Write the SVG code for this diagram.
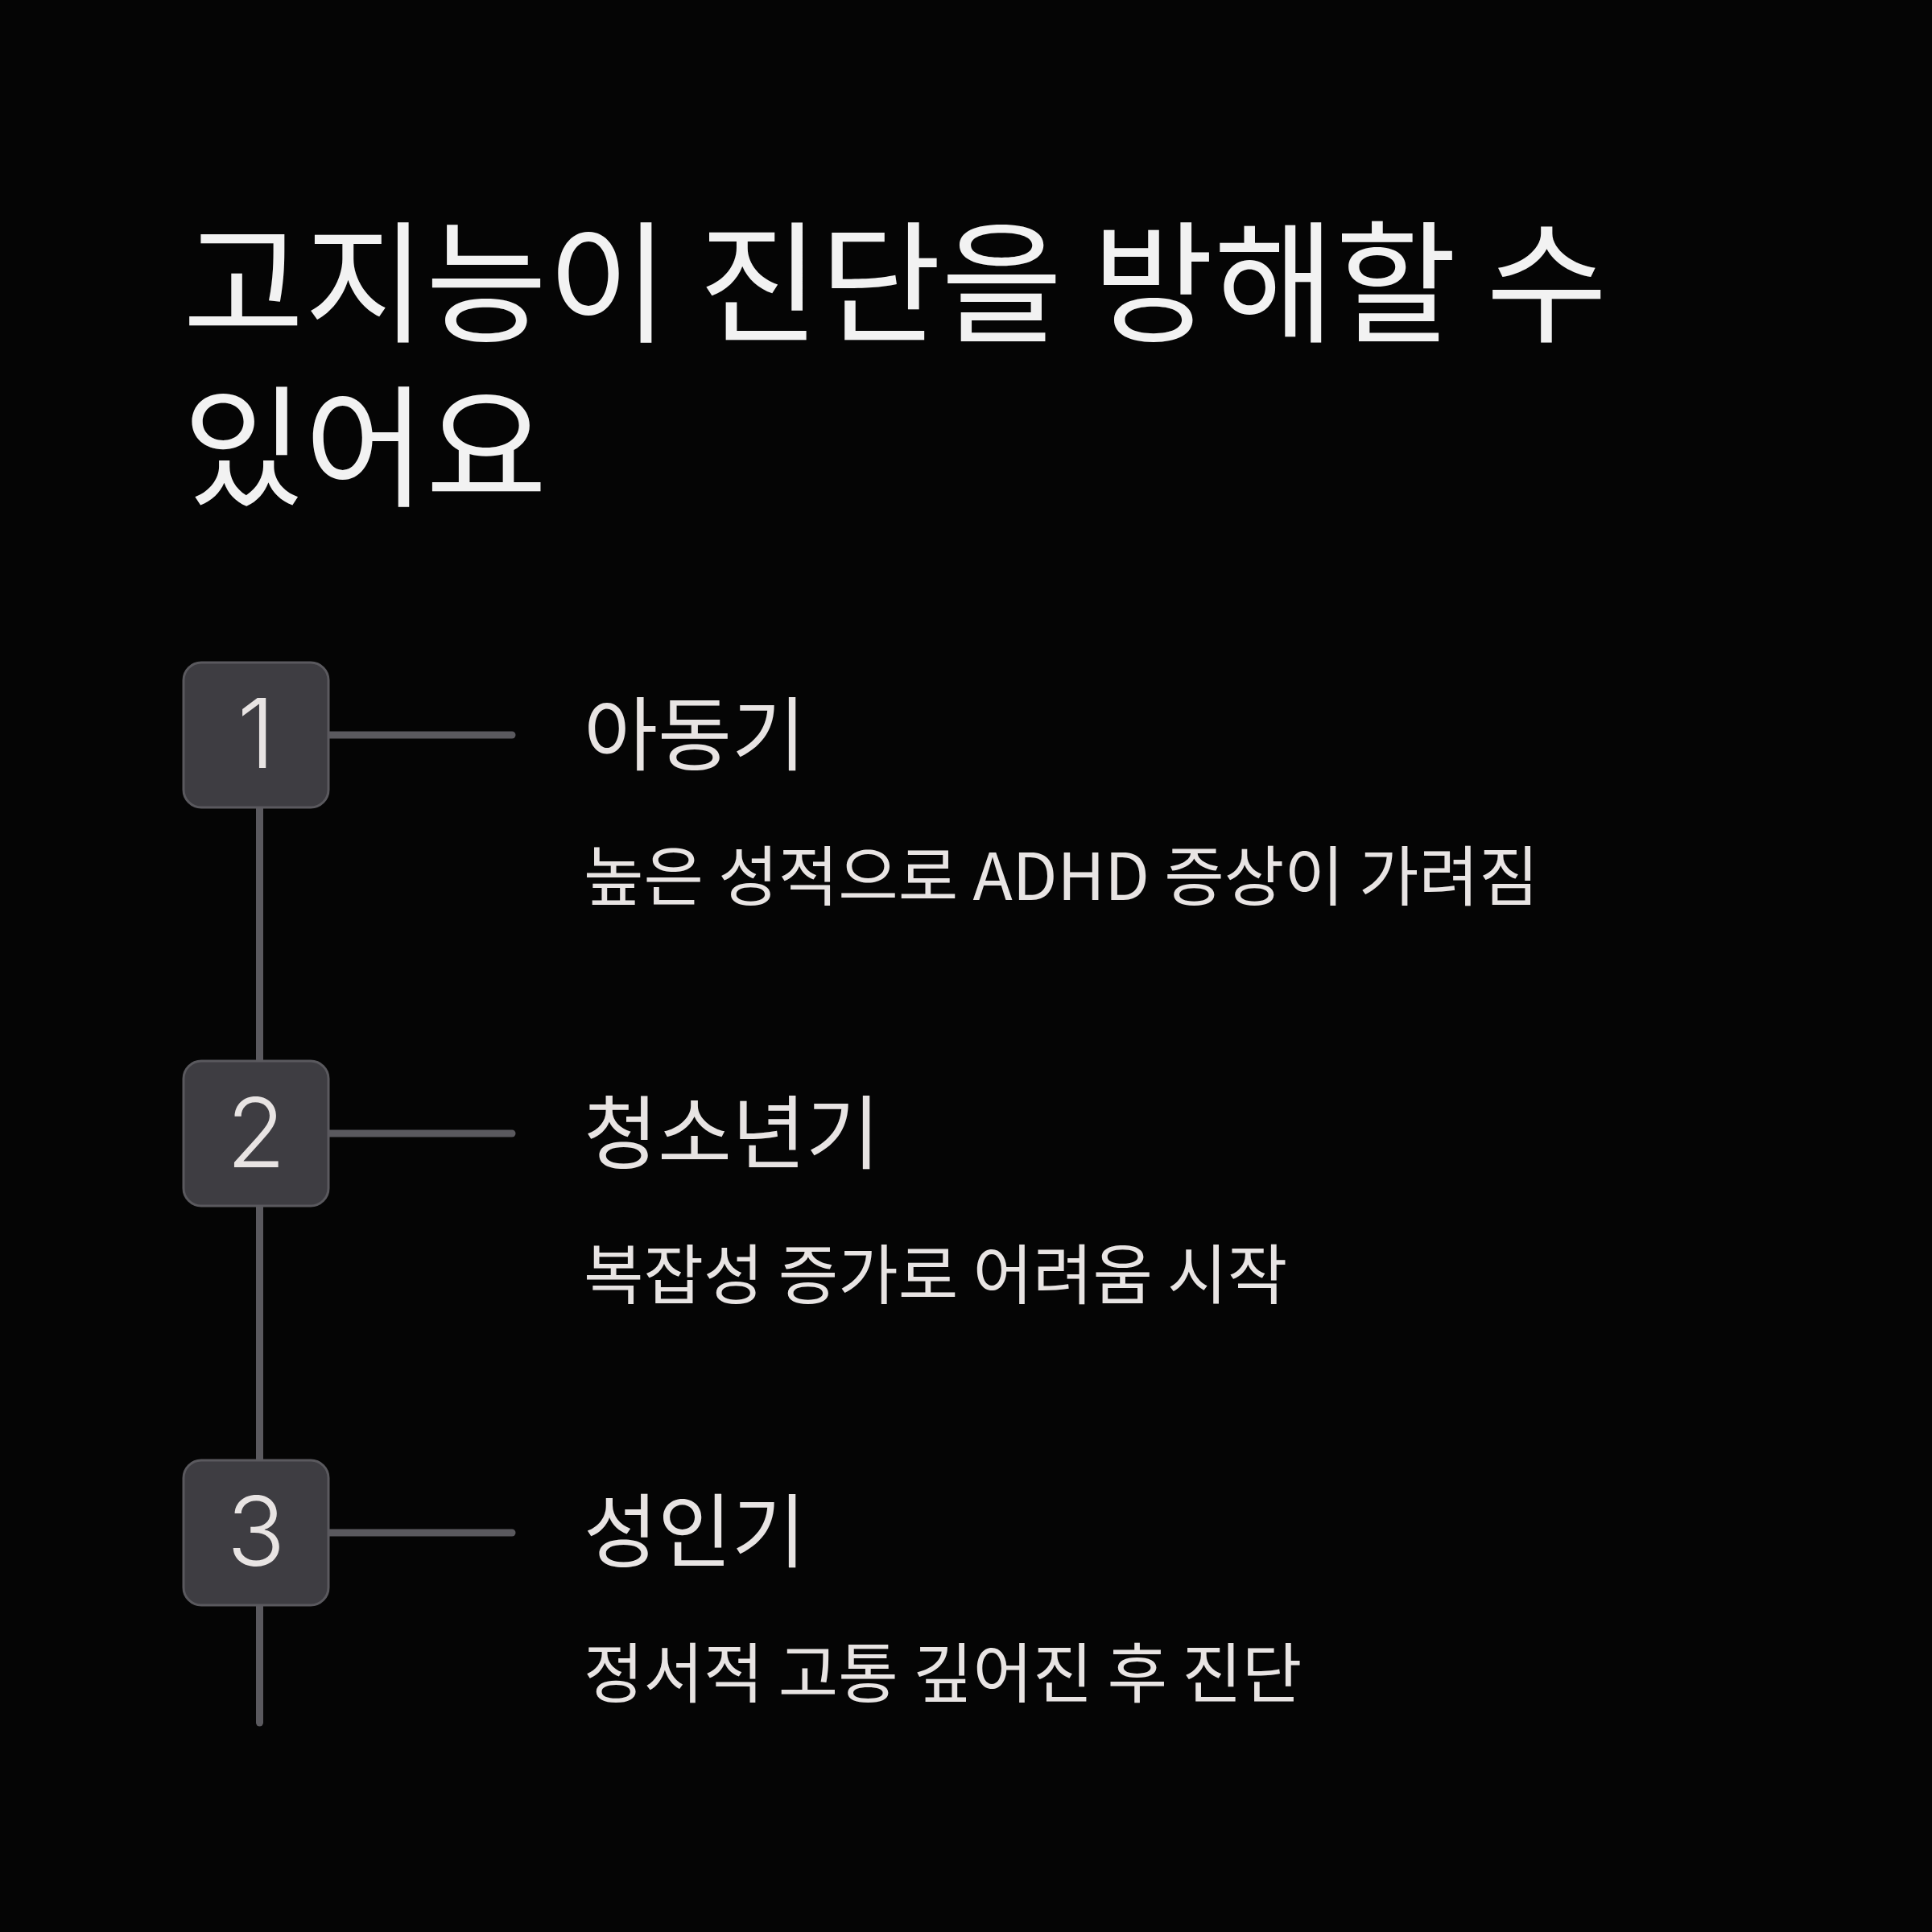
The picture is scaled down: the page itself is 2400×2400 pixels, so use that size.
<svg xmlns="http://www.w3.org/2000/svg" width="2400" height="2400" viewBox="0 0 2400 2400">
<style>
.title{font-family:"Noto Sans CJK KR","Noto Sans",sans-serif;font-size:164px;fill:#f2f2f2;font-weight:400}
.head{font-family:"Noto Sans CJK KR","Noto Sans",sans-serif;font-size:100px;fill:#e8e4e3;font-weight:400}
.desc{font-family:"Noto Sans CJK KR","Noto Sans",sans-serif;font-size:81px;fill:#e8e4e3;font-weight:400}
.num{font-family:Inter,"Noto Sans",sans-serif;font-size:120px;fill:#e8e4e3;font-weight:300;text-anchor:middle}
.box{fill:#3e3d42;stroke:#5a595e;stroke-width:3}
.conn{stroke:#5a595e;stroke-width:9;stroke-linecap:round;fill:none}
</style>
<rect width="2400" height="2400" fill="#050505"/>
<g id="title">
<text class="title" x="227" y="412">고지능이 진단을 방해할 수</text>
<text class="title" x="227" y="616">있어요</text>
</g>
<g id="connectors">
<line class="conn" x1="322.5" y1="1003" x2="322.5" y2="2140"/>
<line class="conn" x1="408" y1="913" x2="636" y2="913"/>
<line class="conn" x1="408" y1="1408" x2="636" y2="1408"/>
<line class="conn" x1="408" y1="1904" x2="636" y2="1904"/>
</g>
<g id="step1">
<rect class="box" x="228" y="823" width="180" height="180" rx="22"/>
<text class="num" x="318" y="954">1</text>
<text class="head" x="725" y="949">아동기</text>
<text class="desc" x="725" y="1118">높은 성적으로 ADHD 증상이 가려짐</text>
</g>
<g id="step2">
<rect class="box" x="228" y="1318" width="180" height="180" rx="22"/>
<text class="num" x="318" y="1450">2</text>
<text class="head" x="725" y="1444">청소년기</text>
<text class="desc" x="725" y="1613">복잡성 증가로 어려움 시작</text>
</g>
<g id="step3">
<rect class="box" x="228" y="1814" width="180" height="180" rx="22"/>
<text class="num" x="318" y="1945">3</text>
<text class="head" x="725" y="1939">성인기</text>
<text class="desc" x="725" y="2108">정서적 고통 깊어진 후 진단</text>
</g>
</svg>
